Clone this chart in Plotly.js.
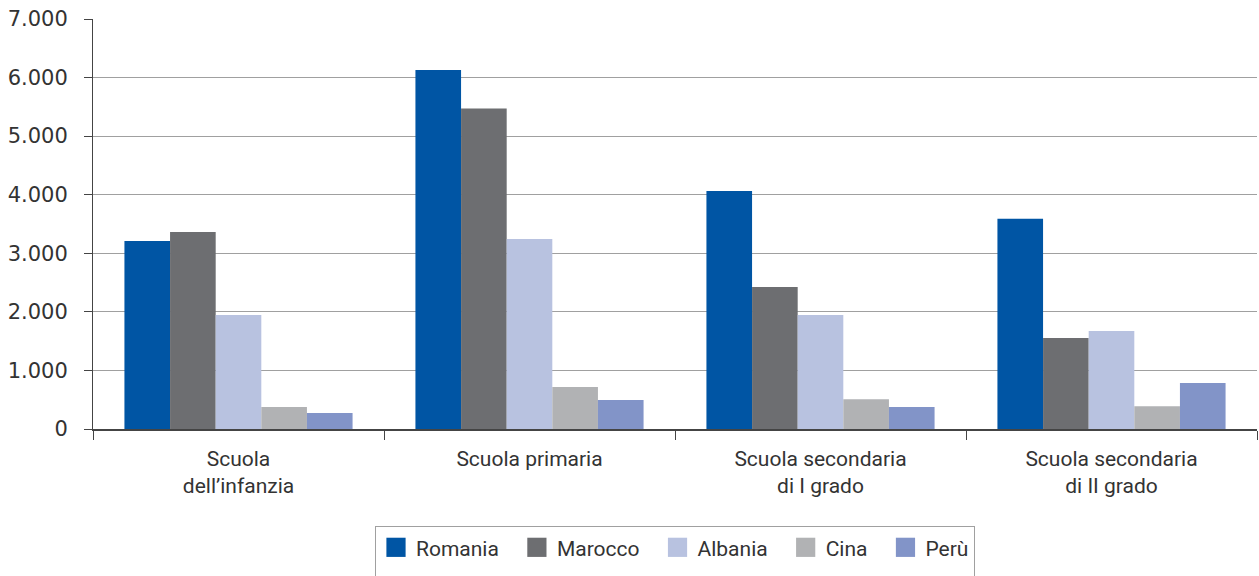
<!DOCTYPE html>
<html>
<head>
<meta charset="utf-8">
<script src="https://cdn.plot.ly/plotly-3.0.1.min.js"></script>
<style>html,body{margin:0;padding:0;background:#fff;}#chart{width:1259px;height:576px;}</style>
</head>
<body>
<div id="chart"></div>
<script>
const categories = ["Scuola<br>dell’infanzia", "Scuola primaria", "Scuola secondaria<br>di I grado", "Scuola secondaria<br>di II grado"];
const seriesNames = ["Romania", "Marocco", "Albania", "Cina", "Perù"];
const romania = [3210, 6130, 4065, 3590];
const marocco = [3365, 5470, 2425, 1555];
const albania = [1945, 3245, 1945, 1675];
const cina = [375, 715, 510, 390];
const peru = [275, 495, 375, 785];
const colors = ["#0055A4", "#6D6E71", "#B8C2E0", "#B1B2B4", "#8294C8"];
const yTicks = [0, 1000, 2000, 3000, 4000, 5000, 6000, 7000];

const values = [romania, marocco, albania, cina, peru];
const traces = seriesNames.map((n, i) => ({
  type: "bar",
  name: n,
  x: categories,
  y: values[i],
  marker: {color: colors[i], line: {width: 0}},
  hoverinfo: "x+y+name"
}));

const font = "Roboto, 'Liberation Sans', sans-serif";
const layout = {
  width: 1259, height: 576,
  margin: {l: 93, r: 2, t: 19, b: 147},
  paper_bgcolor: "#fff", plot_bgcolor: "#fff",
  separators: ",.",
  barmode: "group",
  bargap: 0.216,
  bargroupgap: 0,
  font: {family: font, color: "#333", size: 21},
  xaxis: {
    type: "category",
    tickson: "boundaries",
    ticks: "outside", ticklen: 9, tickcolor: "#444", tickwidth: 1,
    showline: true, linecolor: "#444", linewidth: 1.5,
    showgrid: false,
    tickfont: {family: font, size: 21, color: "#333"},
    ticklabelstandoff: 10,
    zeroline: false
  },
  yaxis: {
    range: [0, 7000],
    tickvals: yTicks,
    tickformat: ",d",
    ticks: "outside", ticklen: 8, tickcolor: "#444",
    showline: true, linecolor: "#444", linewidth: 1,
    showgrid: true, gridcolor: "#A0A0A0", gridwidth: 1,
    zeroline: false,
    tickfont: {family: "'DejaVu Sans', sans-serif", size: 21, color: "#333"},
    ticklabelstandoff: 12
  },
  legend: {
    orientation: "h",
    x: 0.5, xanchor: "center",
    y: -0.237, yanchor: "top",
    bordercolor: "#A0A0A0", borderwidth: 1,
    font: {family: font, size: 21, color: "#333"},
    itemwidth: 30,
    traceorder: "normal"
  },
  showlegend: true
};

function parseTranslate(t) {
  const m = /translate\(\s*([-\d.e]+)[ ,]+([-\d.e]+)\s*\)/.exec(t || "");
  return m ? [parseFloat(m[1]), parseFloat(m[2])] : [0, 0];
}

Plotly.newPlot("chart", traces, layout, {displayModeBar: false, staticPlot: true}).then(gd => {
  // enlarge legend swatches
  gd.querySelectorAll(".legend .legendpoints path").forEach(p => {
    const t = p.getAttribute("transform") || "";
    p.setAttribute("transform", t + " scale(1.6)");
  });
  // widen spacing between legend entries
  gd.querySelectorAll(".legend [clip-path]").forEach(e => e.removeAttribute("clip-path"));
  const extra = 13;
  const items = gd.querySelectorAll(".legend .traces");
  items.forEach((g, i) => {
    const [x, y] = parseTranslate(g.getAttribute("transform"));
    g.setAttribute("transform", "translate(" + (x + i * extra) + "," + y + ")");
  });
  const added = extra * (items.length - 1);
  const bg = gd.querySelector(".legend .bg");
  if (bg) {
    bg.setAttribute("width", parseFloat(bg.getAttribute("width")) + added);
    bg.setAttribute("height", parseFloat(bg.getAttribute("height")) + 12);
  }
  const leg = gd.querySelector(".legend");
  if (leg) {
    const [lx, ly] = parseTranslate(leg.getAttribute("transform"));
    leg.setAttribute("transform", "translate(" + (lx - added / 2) + "," + ly + ")");
  }
});
</script>
</body>
</html>
